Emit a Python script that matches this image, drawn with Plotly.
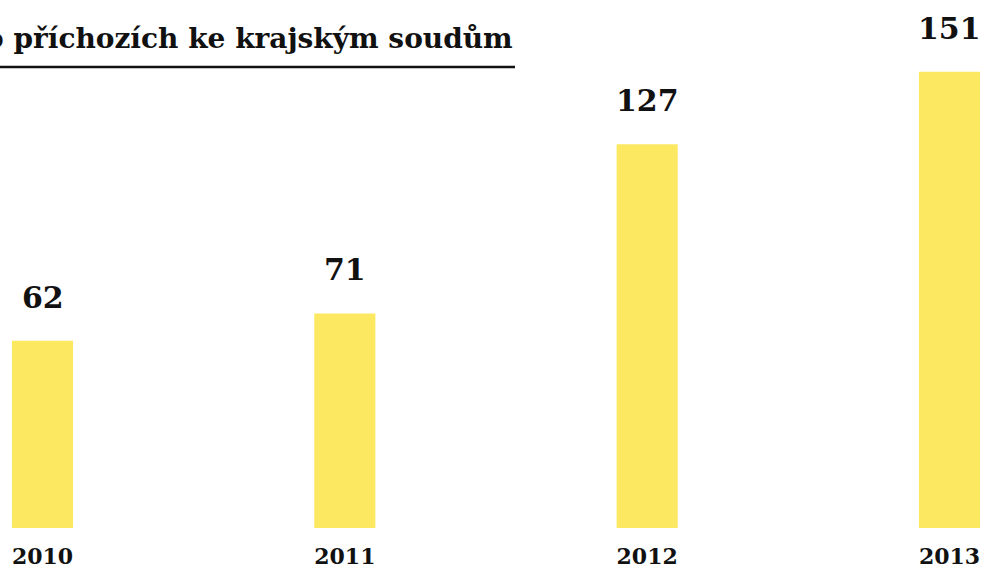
import plotly.graph_objects as go

years = ["2010", "2011", "2012", "2013"]
values = [62, 71, 127, 151]
title_text = "o příchozích ke krajským soudům"

FONT = "DejaVu Serif"
BAR_COLOR = "#fde862"
PLOT_H = 528

def py(px):
    return (PLOT_H - px) / PLOT_H

xpos = list(range(len(years)))

fig = go.Figure()
fig.add_trace(go.Bar(
    x=xpos, y=values, marker=dict(color=BAR_COLOR, line=dict(width=0)),
    width=0.202, hoverinfo="skip",
))

for xi, v in zip(xpos, values):
    fig.add_annotation(
        x=xi, y=v, text=f"<b>{v}</b>", showarrow=False,
        xanchor="center", yanchor="bottom", yshift=24,
        font=dict(family=FONT, size=30, color="#111111"),
    )

fig.add_annotation(
    xref="paper", yref="paper", x=515 / 982, y=py(57), xanchor="right", yanchor="bottom",
    text=f"<b>{title_text}</b>", showarrow=False,
    font=dict(family=FONT, size=28, color="#111111"),
)
fig.add_shape(type="line", xref="paper", yref="paper", x0=0, x1=515 / 982,
              y0=py(67), y1=py(67), line=dict(color="#111111", width=2.5))

fig.update_layout(
    width=982, height=568,
    margin=dict(l=0, r=0, t=0, b=40),
    paper_bgcolor="white", plot_bgcolor="white",
    showlegend=False,
    xaxis=dict(range=[-0.1406, 3.1075], showgrid=False,
               zeroline=False, showline=False, ticks="",
               ticklabelstandoff=13,
               tickfont=dict(family=FONT, size=22, color="#111111"),
               tickvals=xpos, ticktext=[f"<b>{y}</b>" for y in years]),
    yaxis=dict(range=[0, PLOT_H / 3.022], showgrid=False, zeroline=False,
               showline=False, showticklabels=False, ticks=""),
)
fig.write_html("out.html", config={"displayModeBar": False},
               post_script="document.body.style.margin='0px';")
